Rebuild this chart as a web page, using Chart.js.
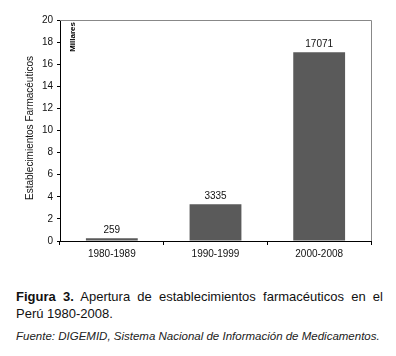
<!DOCTYPE html>
<html lang="es">
<head>
    <meta charset="UTF-8">
    <title>Figura 3</title>
    <script src="https://cdn.jsdelivr.net/npm/chart.js"></script>
    <style>
        body {
            margin: 0;
            background: #fff;
            width: 396px;
            height: 356px;
            overflow: hidden;
            font-family: "Liberation Sans", Arial, sans-serif;
        }
        #wrap {
            position: absolute;
            left: 0;
            top: 0;
            width: 396px;
            height: 268px;
        }
        .caption {
            position: absolute;
            left: 16px;
            width: 367px;
            color: #111;
        }
        #fig {
            top: 288px;
            font-size: 13px;
            line-height: 17px;
            text-align: justify;
            text-align-last: left;
        }
        #src {
            top: 330px;
            width: 370px;
            font-size: 11.5px;
            line-height: 13px;
            font-style: italic;
            color: #222;
            white-space: nowrap;
        }
    </style>
</head>
<body>

<div id="wrap"><canvas id="chart" width="396" height="268"></canvas></div>
<div id="fig" class="caption"><b>Figura 3.</b> Apertura de establecimientos farmacéuticos en el Perú 1980-2008.</div>
<div id="src" class="caption">Fuente: DIGEMID, Sistema Nacional de Información de Medicamentos.</div>

<script>
    const categories = ["1980-1989", "1990-1999", "2000-2008"]
    const values = [259, 3335, 17071]   // establecimientos
    const yMin = 0
    const yMax = 20
    const yStep = 2

    // texts on the plot: data labels, axis title, "Millares" and the frame
    const extras = {
        id: "extras",
        afterDraw(chart) {
            const ctx = chart.ctx
            const area = chart.chartArea
            ctx.save()

            ctx.strokeStyle = "#888"
            ctx.lineWidth = 1
            ctx.beginPath()
            ctx.moveTo(area.left, area.top + 0.5)
            ctx.lineTo(area.right + 0.5, area.top + 0.5)
            ctx.lineTo(area.right + 0.5, area.bottom)
            ctx.stroke()

            ctx.fillStyle = "#111"
            ctx.font = "10px 'Liberation Sans'"
            ctx.textAlign = "center"
            ctx.textBaseline = "bottom"
            chart.getDatasetMeta(0).data.forEach(function (bar, i) {
                ctx.fillText(values[i], bar.x, bar.y - 3)
            })

            ctx.translate(30, 128)
            ctx.rotate(-Math.PI / 2)
            ctx.textBaseline = "middle"
            ctx.font = "10px 'Liberation Sans'"
            ctx.fillText("Establecimientos Farmacéuticos", 0, 0)
            ctx.restore()

            ctx.save()
            ctx.translate(area.left + 13, area.top + 2)
            ctx.rotate(-Math.PI / 2)
            ctx.fillStyle = "#000"
            ctx.font = "bold 8px 'Liberation Sans'"
            ctx.textAlign = "right"
            ctx.textBaseline = "middle"
            ctx.fillText("Millares", 0, 0)
            ctx.restore()
        }
    }

    new Chart(document.getElementById("chart"), {
        type: "bar",
        data: {
            labels: categories,
            datasets: [{
                data: values.map(v => v / 1000),
                backgroundColor: "#5a5a5a",
                barPercentage: 0.5,
                categoryPercentage: 1
            }]
        },
        options: {
            responsive: false,
            animation: false,
            events: [],
            layout: { padding: { top: 20, right: 25, left: 0, bottom: 0 } },
            plugins: {
                legend: { display: false },
                tooltip: { enabled: false }
            },
            scales: {
                x: {
                    grid: { drawOnChartArea: false, color: "#000", tickLength: 4 },
                    border: { color: "#000" },
                    ticks: { color: "#111", font: { family: "Liberation Sans", size: 10 }, padding: 3, maxRotation: 0 },
                    afterFit(scale) { scale.height = 27 }
                },
                y: {
                    min: yMin,
                    max: yMax,
                    grid: { drawOnChartArea: false, color: "#000", tickLength: 3 },
                    border: { color: "#000" },
                    ticks: { stepSize: yStep, color: "#111", font: { family: "Liberation Sans", size: 10 }, padding: 4 },
                    afterFit(scale) { scale.width = 60 }
                }
            }
        },
        plugins: [extras]
    })
</script>

</body>
</html>
